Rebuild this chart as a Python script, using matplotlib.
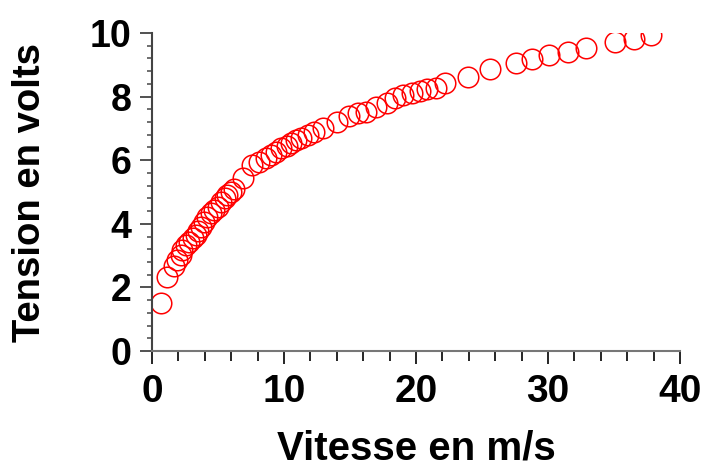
import matplotlib
matplotlib.use("Agg")
import matplotlib.pyplot as plt
from matplotlib.ticker import MultipleLocator

# --- Données ---
vitesse = [0.71, 1.1, 1.67, 1.93, 2.18, 2.3, 2.56, 2.8, 3.07, 3.3, 3.45, 3.7,
           3.95, 4.2, 4.46, 4.7, 4.97, 5.2, 5.5, 5.7, 6.0, 6.2, 6.86, 7.6,
           8.1, 8.65, 9.0, 9.4, 9.8, 10.2, 10.5, 10.9, 11.3, 11.8, 12.3,
           12.95, 14.0, 14.9, 15.6, 16.2, 17.0, 17.8, 18.4, 19.0, 19.7,
           20.3, 20.8, 21.5, 22.2, 23.95, 25.6, 27.6, 28.8, 30.1, 31.5,
           32.9, 35.1, 36.5, 37.8]
tension = [1.50, 2.34, 2.67, 2.86, 3.02, 3.18, 3.33, 3.44, 3.54, 3.65, 3.78,
           3.91, 4.07, 4.22, 4.33, 4.43, 4.54, 4.69, 4.8, 4.9, 5.0, 5.11,
           5.43, 5.85, 5.95, 6.06, 6.16, 6.27, 6.37, 6.45, 6.55, 6.64, 6.69,
           6.79, 6.9, 7.0, 7.21, 7.39, 7.47, 7.53, 7.68, 7.81, 7.95, 8.05,
           8.10, 8.17, 8.24, 8.28, 8.43, 8.62, 8.87, 9.06, 9.17, 9.31, 9.41,
           9.54, 9.73, 9.82, 9.93]

x_ticks = [0, 10, 20, 30, 40]
y_ticks = [0, 2, 4, 6, 8, 10]

police = ["Liberation Sans", "DejaVu Sans"]

fig = plt.figure(figsize=(7.02, 4.67), dpi=100)
ax = fig.add_axes([0.2165, 0.2484, 0.9687 - 0.2165, 0.9293 - 0.2484])

ax.plot(vitesse, tension, linestyle="none", marker="o", markersize=14.8,
        markerfacecolor="none", markeredgecolor="#ff0000",
        markeredgewidth=1.1)

ax.set_xlim(0, 40)
ax.set_ylim(0, 10)
ax.set_xticks(x_ticks)
ax.set_yticks(y_ticks)
ax.xaxis.set_minor_locator(MultipleLocator(2))
ax.yaxis.set_minor_locator(MultipleLocator(0.4))

for s in ["top", "right"]:
    ax.spines[s].set_visible(False)
ax.spines["left"].set_color("#444444")
ax.spines["bottom"].set_color("#777777")
for s in ["left", "bottom"]:
    ax.spines[s].set_linewidth(1.5)

ax.tick_params(axis="x", which="major", direction="out", length=9.5,
               width=1.2, color="black", pad=7)
ax.tick_params(axis="x", which="minor", direction="out", length=7,
               width=1.2, color="black")
ax.tick_params(axis="y", which="major", direction="out", length=9,
               width=1.2, color="#333333", pad=6)
ax.tick_params(axis="y", which="minor", direction="out", length=3.5,
               width=1.2, color="#555555")

for lab in ax.get_xticklabels():
    lab.set_family(police)
    lab.set_fontweight("bold")
    lab.set_fontsize(28)
for lab in ax.get_yticklabels():
    lab.set_family(police)
    lab.set_fontweight("bold")
    lab.set_fontsize(27)

ax.set_xlabel("Vitesse en m/s", family=police, fontweight="bold",
              fontsize=29, labelpad=14)
ax.set_ylabel("Tension en volts", family=police, fontweight="bold",
              fontsize=27.5, labelpad=30)

fig.savefig("out.png", dpi=100)
